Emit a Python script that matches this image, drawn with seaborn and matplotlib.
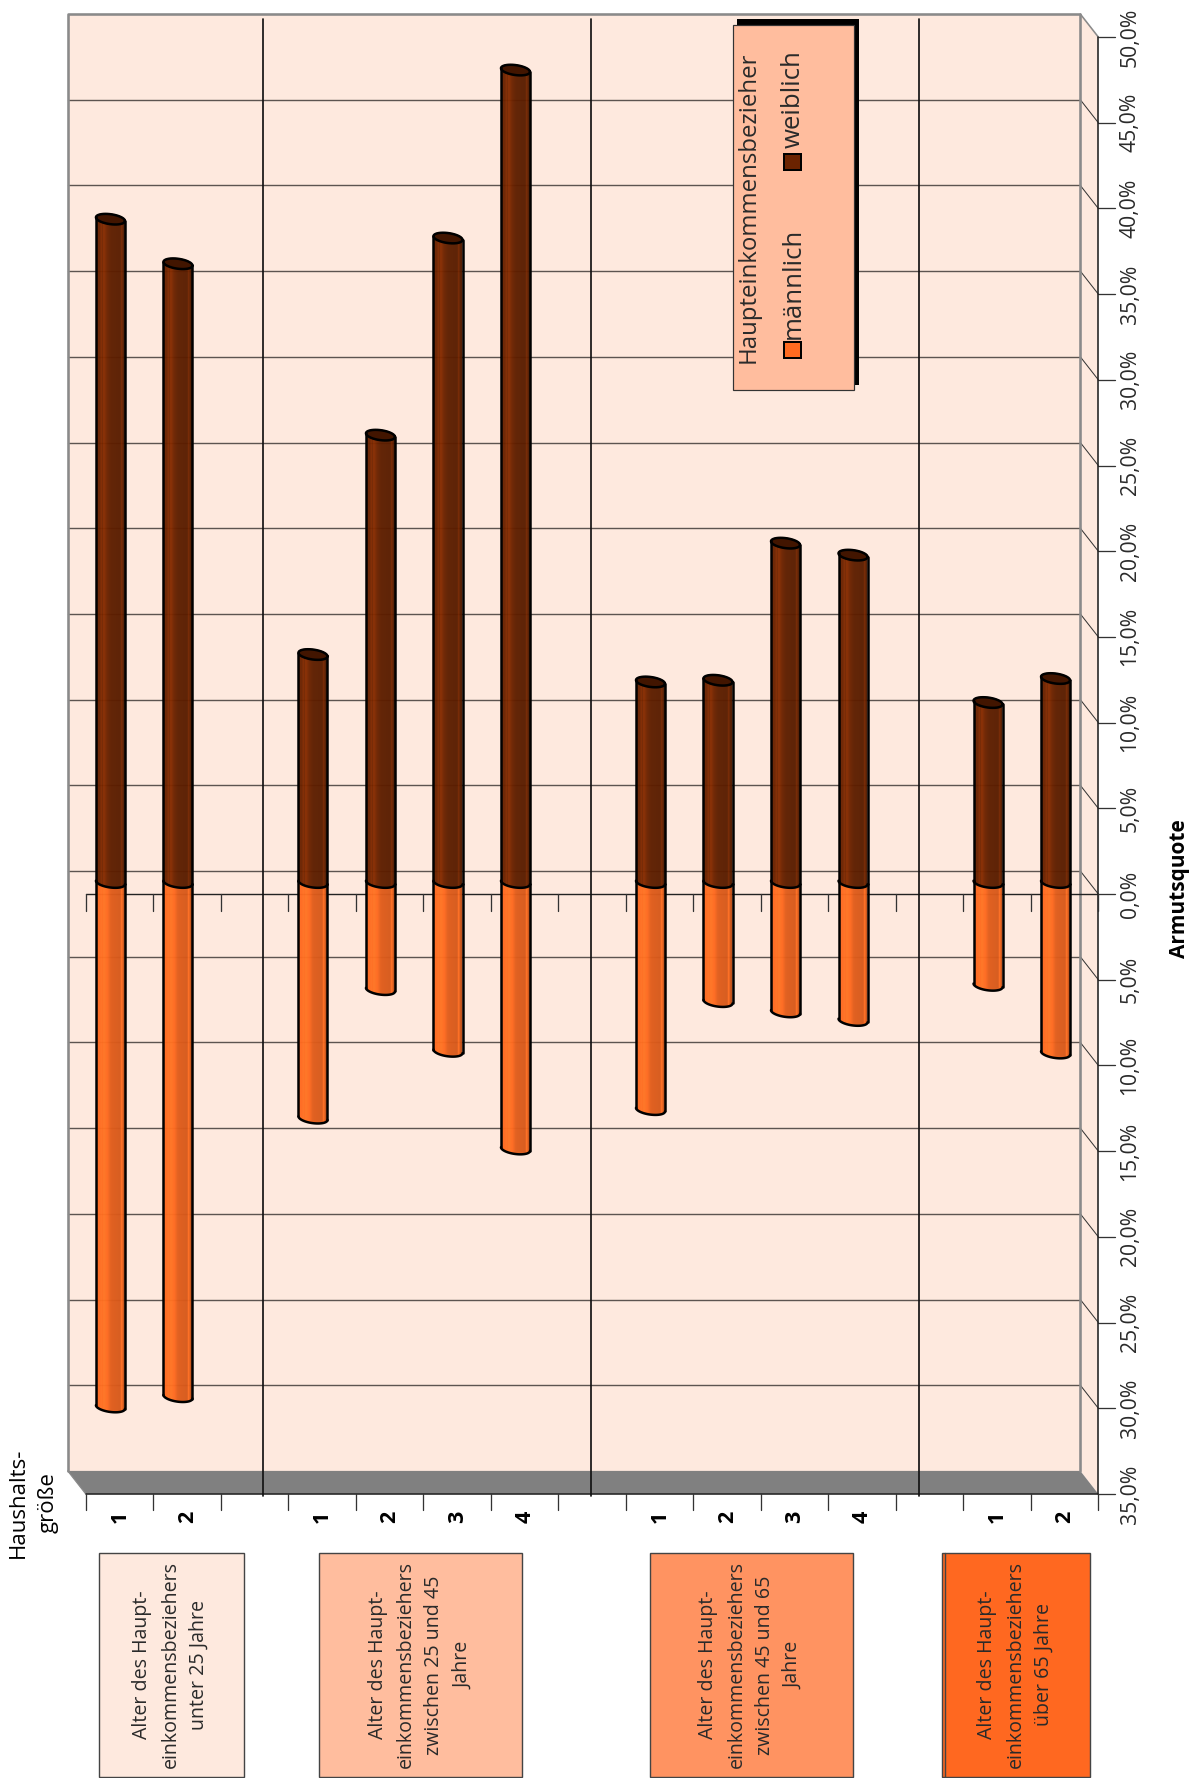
import numpy as np
import pandas as pd
import seaborn as sns
import matplotlib
matplotlib.use("Agg")
import matplotlib.pyplot as plt
from matplotlib.patches import Rectangle, Polygon
from matplotlib.path import Path
from matplotlib.colors import to_rgb

sns.set_theme(style="white")
plt.rcParams['font.family'] = ['Open Sans', 'Noto Sans', 'DejaVu Sans']

# ---------- data ----------
slots = [0, 1, 3, 4, 5, 6, 8, 9, 10, 11, 13, 14]
household = ['1', '2', '1', '2', '3', '4', '1', '2', '3', '4', '1', '2']
male = [30.6, 30.0, 13.75, 6.25, 9.85, 15.55, 13.25, 6.95, 7.55, 8.05, 6.0, 9.95]
female = [38.7, 36.1, 13.3, 26.1, 37.6, 47.4, 11.7, 11.8, 19.8, 19.1, 10.5, 11.9]
value_ticks = [-35, -30, -25, -20, -15, -10, -5, 0, 5, 10, 15, 20, 25, 30, 35, 40, 45, 50]
group_labels = [
    "Alter des Haupt-\neinkommensbeziehers\nunter 25 Jahre",
    "Alter des Haupt-\neinkommensbeziehers\nzwischen 25 und 45\nJahre",
    "Alter des Haupt-\neinkommensbeziehers\nzwischen 45 und 65\nJahre",
    "Alter des Haupt-\neinkommensbeziehers\nüber 65 Jahre",
]
n_slots = 15

# ---------- styles ----------
W, H = 1201, 1778
WALL = "#FEE9DE"
ORANGE = "#FF6A20"
BROWN = "#6B2300"
CAP = "#421500"
BOX_COLS = ["#FEE9DE", "#FFBD9E", "#FF9361", "#FF6820"]
FRONT_L, FRONT_R, PX_PER_PCT = 85.7, 1098.3, 17.14
FRONT_ZERO = 894.0
DX, DY = 18.0, 23.0
SLOT_W = (FRONT_R - FRONT_L) / n_slots
BAR_DX, BAR_DY = 9.0, 11.5

fig = plt.figure(figsize=(W / 100, H / 100), dpi=100, facecolor="white")

def px(lw):
    return lw * 72 / 100

# ---------- chrome, in pixel coordinates ----------
bg = fig.add_axes([0, 0, 1, 1], zorder=0)
bg.set_xlim(0, W)
bg.set_ylim(H, 0)
bg.set_axis_off()

def vy(v):
    return FRONT_ZERO - v * PX_PER_PCT

top, bot = vy(50), vy(-35)
back_l, back_r = FRONT_L - DX, FRONT_R - DX
back_t, back_b = top - DY, bot - DY
TXT = "#2A2A2A"

bg.add_patch(Rectangle((back_l, back_t), back_r - back_l, back_b - back_t, fc=WALL, ec="none"))
bg.add_patch(Polygon([(back_r, back_t), (FRONT_R, top), (FRONT_R, bot), (back_r, back_b)], fc=WALL, ec="none"))
bg.add_patch(Polygon([(back_l, back_b), (back_r, back_b), (FRONT_R, bot), (FRONT_L, bot)], fc="#808080", ec="none"))

for v in value_ticks:
    y = vy(v)
    if v < 50 and v > -35:
        bg.plot([back_l, back_r], [y - DY, y - DY], color="#5C5450", lw=px(1.4))
        bg.plot([back_r, FRONT_R], [y - DY, y], color="#333333", lw=px(1.0))
    bg.plot([FRONT_R, FRONT_R + 17], [y, y], color="#333333", lw=px(1.3))
    bg.text(1130, y, f"{abs(v):.1f}".replace(".", ",") + "%", rotation=90, ha="center", va="center",
            fontsize=15.2, color=TXT)

# wall frame
bg.plot([back_l, back_l, back_r, back_r], [back_b, back_t, back_t, back_b], color="#8A8A8A", lw=px(2.6))
bg.plot([back_r, FRONT_R], [back_t, top], color="#8A8A8A", lw=px(1.6))
bg.plot([back_l, FRONT_L], [back_b, bot], color="#8A8A8A", lw=px(1.2))
bg.plot([FRONT_R, FRONT_R], [top, bot], color="#222222", lw=px(1.6))
bg.plot([FRONT_L, FRONT_R], [bot, bot], color="#222222", lw=px(1.6))
bg.plot([FRONT_L, FRONT_R], [FRONT_ZERO, FRONT_ZERO], color="#222222", lw=px(1.4))

for i in range(n_slots + 1):
    x = FRONT_L + i * SLOT_W
    bg.plot([x, x], [bot, bot + 16], color="#333333", lw=px(1.3))
    bg.plot([x, x], [FRONT_ZERO, FRONT_ZERO + 16.5], color="#333333", lw=px(1.3))

for s, h in zip(slots, household):
    bg.text(FRONT_L + (s + 0.5) * SLOT_W + 0.5, 1517, h, rotation=90, ha="center", va="center",
            fontsize=15.5, fontweight="bold", color="black")

# group separators
for x in (263, 591, 918.5):
    bg.plot([x, x], [19, 1496], color="#111111", lw=px(1.7))

# axis titles
bg.text(1179, 889, "Armutsquote", rotation=90, ha="center", va="center", fontsize=15, fontweight="bold", color="black")
bg.text(33.5, 1503, "Haushalts-\ngröße", rotation=90, ha="center", va="center", fontsize=16,
        color="black", linespacing=1.55, multialignment="center")

# group boxes
box_x = [(98.5, 243.8), (319, 522.4), (650, 852.6), (942, 1090)]
for (x0, x1), col, lab in zip(box_x, BOX_COLS, group_labels):
    bg.add_patch(Rectangle((x0, 1553), x1 - x0, 224, fc=col, ec="#444444", lw=px(1.4)))
    bg.text((x0 + x1) / 2 - 0.5, 1665, lab, rotation=90, ha="center", va="center", fontsize=14.1,
            color=TXT, linespacing=1.56, multialignment="center")
bg.plot([945, 945], [1553, 1777], color="#444444", lw=px(1.4))

# legend
bg.add_patch(Rectangle((737, 19), 122, 366, fc="black", ec="none", zorder=5))
bg.add_patch(Rectangle((732.5, 25), 121, 365, fc="#FFBD9E", ec="#333333", lw=px(1.2), zorder=6))
bg.text(748.5, 207.5, "Haupteinkommensbezieher", rotation=90, ha="center", va="center", fontsize=17.3, color=TXT, zorder=7)
bg.text(793.5, 283, "männlich", rotation=90, ha="center", va="center", fontsize=18.5, color=TXT, zorder=7)
bg.text(793.5, 99.5, "weiblich", rotation=90, ha="center", va="center", fontsize=18.5, color=TXT, zorder=7)
bg.add_patch(Rectangle((784, 341.5), 17, 16.5, fc=ORANGE, ec="black", lw=px(2), zorder=7))
bg.add_patch(Rectangle((784, 153.5), 17, 16.5, fc=BROWN, ec="black", lw=px(2), zorder=7))

# ---------- bars, on the plane half-way into the depth ----------
ax = fig.add_axes([(FRONT_L - BAR_DX) / W,
                   1 - (vy(-35) - BAR_DY) / H,
                   (FRONT_R - FRONT_L) / W,
                   (vy(50) * -1 + vy(-35)) / H], zorder=1)
ax.patch.set_alpha(0)

df = pd.DataFrame({
    "slot": slots * 2,
    "value": [-m for m in male] + female,
    "Geschlecht": ["männlich"] * len(male) + ["weiblich"] * len(female),
})
BAR_W = 0.43
sns.barplot(data=df, x="slot", y="value", hue="Geschlecht", order=list(range(n_slots)),
            palette={"männlich": ORANGE, "weiblich": BROWN}, dodge=False, width=BAR_W,
            linewidth=0, legend=False, ax=ax)
ax.set_xlim(-0.5, n_slots - 0.5)
ax.set_ylim(-35, 50)
ax.set_axis_off()

CAP_B = 5 / PX_PER_PCT
CAP_TILT = 1.8 / PX_PER_PCT
shade_t = [0, .04, .14, .17, .21, .25, .38, .5, .82, .86, .9, .94, 1]
shade_v = [.86, 1.0, 1.0, 1.3, 1.0, 1.3, 1.0, .88, .84, 1.2, .82, .76, .72]

def arc(cx, half, v, t0, t1):
    t = np.linspace(t0, t1, 40)
    return cx + half * np.cos(t), v + CAP_B * np.sin(t) - CAP_TILT * np.cos(t)

for p in list(ax.patches):
    h = p.get_height()
    if not np.isfinite(h) or h == 0:
        continue
    cx = p.get_x() + p.get_width() / 2
    half = p.get_width() / 2
    is_f = h > 0
    base = np.array(to_rgb(BROWN if is_f else ORANGE))
    tt = np.linspace(0, 1, 120)
    mult = np.interp(tt, shade_t, shade_v)
    if not is_f:
        mult = np.where(mult > 1, 1 + (mult - 1) * 0.35, mult)
    img = np.clip(base[None, None, :] * mult[None, :, None], 0, 1)

    jx, jy = arc(cx, half, 0, np.pi, 2 * np.pi)      # joint: lower half, left to right
    if is_f:
        ex, ey = arc(cx, half, h, 0, np.pi)          # far end: upper half, right to left
    else:
        ex, ey = arc(cx, half, h, 2 * np.pi, np.pi)  # far end: lower half, right to left
    verts = np.column_stack([np.r_[jx, ex], np.r_[jy, ey]])
    clip = Path(np.vstack([verts, verts[0]]), closed=True)

    y0, y1 = min(h, 0) - 2 * CAP_B, max(h, 0) + 2 * CAP_B
    im = ax.imshow(img, extent=(cx - half, cx + half, y0, y1), aspect="auto",
                   interpolation="bilinear", zorder=3 if is_f else 2, alpha=0.97)
    im.set_clip_path(clip, transform=ax.transData)
    p.set_visible(False)

    edge = dict(color="black", lw=px(2.5), zorder=5, solid_capstyle="round", solid_joinstyle="round")
    ax.plot([cx - half, cx - half], [h + CAP_TILT, CAP_TILT], **edge)
    ax.plot([cx + half, cx + half], [h - CAP_TILT, -CAP_TILT], **edge)
    if is_f:
        fx, fy = arc(cx, half, h, 0, 2 * np.pi)
        ax.fill(fx, fy, color=CAP, zorder=4)
        ax.plot(fx, fy, **edge)
        ax.plot(jx, jy, **edge)
    else:
        ax.plot(ex, ey, **edge)

ax.set_xlim(-0.5, n_slots - 0.5)
ax.set_ylim(-35, 50)

fig.savefig("out.png", dpi=100, facecolor="white")
